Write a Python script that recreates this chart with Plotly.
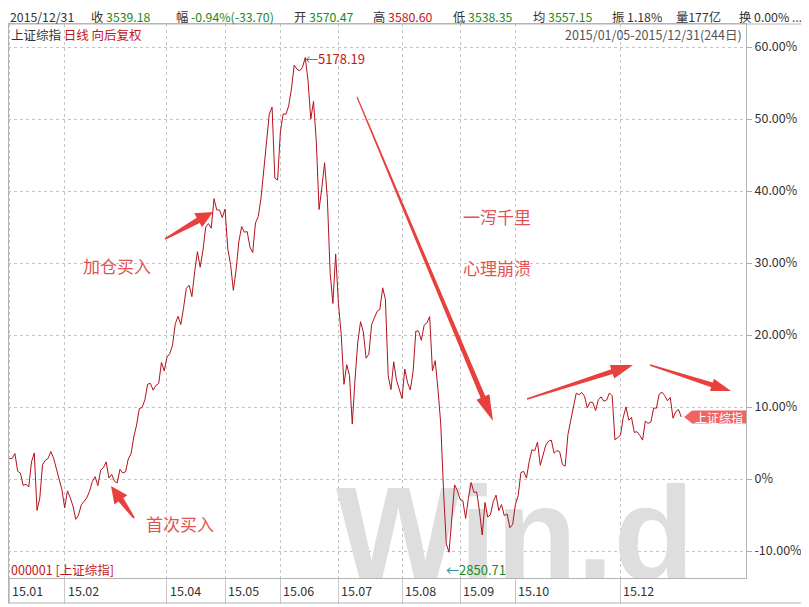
import plotly.graph_objects as go
import numpy as np

# ---------------- data (Shanghai Composite daily closes, 2015) ----------------
base_open = 3258.63   # 2015/01/05 open, reference for % scale
jan = [3350.52, 3351.45, 3373.95, 3293.46, 3285.41, 3229.32, 3235.30, 3222.44, 3336.45, 3376.50,
       3116.35, 3173.05, 3323.61, 3343.34, 3351.76, 3383.18, 3352.96, 3305.74, 3262.30, 3210.36]
feb = [3128.30, 3204.91, 3174.13, 3136.53, 3075.91, 3095.12, 3141.59, 3157.70, 3173.42, 3203.83,
       3246.91, 3268.91, 3228.84, 3298.36, 3310.30]
mar = [3336.28, 3263.05, 3279.53, 3248.48, 3241.19, 3302.41, 3286.07, 3290.90, 3349.32, 3372.91,
       3449.30, 3502.85, 3577.30, 3582.27, 3617.32, 3687.73, 3691.41, 3660.73, 3682.09, 3691.10,
       3786.57, 3747.90]
apr = [3810.29, 3825.78, 3863.93, 3961.38, 3994.81, 3957.53, 4034.31, 4121.71, 4135.57, 4084.16,
       4194.82, 4287.30, 4217.08, 4293.62, 4398.49, 4414.51, 4393.69, 4527.40, 4476.62, 4476.21,
       4441.66]
may = [4480.46, 4298.71, 4229.27, 4112.21, 4205.92, 4333.58, 4401.22, 4375.76, 4378.31, 4308.69,
       4283.49, 4417.55, 4446.29, 4529.42, 4657.60, 4813.80, 4910.90, 4941.71, 4620.27, 4611.74]
jun = [4828.74, 4910.53, 4909.98, 4947.10, 5023.10, 5131.88, 5113.53, 5106.04, 5121.59, 5166.35,
       5062.99, 4887.43, 4967.90, 4785.36, 4478.36, 4576.49, 4690.15, 4527.78, 4192.87, 4053.03,
       4277.22]
jul = [4053.70, 3912.77, 3686.92, 3775.91, 3727.12, 3507.19, 3709.33, 3877.80, 3970.39, 3924.49,
       3805.70, 3823.18, 3957.35, 3992.11, 4017.67, 4026.04, 4123.92, 4070.91, 3725.56, 3663.00,
       3789.17, 3705.77, 3663.73]
aug = [3622.91, 3756.54, 3694.57, 3661.54, 3744.20, 3928.42, 3927.91, 3886.32, 3954.56, 3965.33,
       3993.67, 3748.16, 3794.11, 3664.29, 3507.74, 3209.91, 2964.97, 2927.29, 3083.59, 3232.35,
       3205.99]
sep = [3166.62, 3160.17, 3080.42, 3170.45, 3243.09, 3197.89, 3200.23, 3114.80, 3005.17, 3152.26,
       3086.06, 3097.92, 3156.54, 3185.62, 3115.89, 3142.69, 3092.35, 3100.76, 3038.14, 3052.78]
oct_ = [3143.36, 3183.15, 3287.66, 3293.23, 3262.44, 3338.07, 3391.35, 3386.70, 3425.33, 3320.68,
        3368.74, 3412.43, 3429.58, 3434.34, 3375.20, 3387.32, 3382.56]
nov = [3325.08, 3316.70, 3459.64, 3522.82, 3590.03, 3646.88, 3640.49, 3650.25, 3632.90, 3580.84,
       3606.96, 3604.80, 3568.47, 3617.06, 3630.50, 3610.31, 3616.11, 3647.93, 3635.55, 3436.30,
       3445.40]
dec = [3456.31, 3536.91, 3584.82, 3524.99, 3536.93, 3470.07, 3472.44, 3455.50, 3434.58, 3520.67,
       3510.35, 3516.19, 3580.00, 3578.96, 3642.47, 3651.77, 3636.09, 3612.49, 3627.91, 3533.78,
       3563.74, 3572.88, 3539.18]

months = [jan, feb, mar, apr, may, jun, jul, aug, sep, oct_, nov, dec]
month_labels = ["15.01", "15.02", "15.03", "15.04", "15.05", "15.06",
                "15.07", "15.08", "15.09", "15.10", "15.11", "15.12"]
shown_months = [0, 1, 3, 4, 5, 6, 7, 8, 9, 11]

y_ticks = [-10, 0, 10, 20, 30, 40, 50, 60]
y_tick_text = ["-10.00%", "0%", "10.00%", "20.00%", "30.00%", "40.00%", "50.00%", "60.00%"]

high_2015 = 5178.19
low_2015 = 2850.71

# ---------------- derived ----------------
closes = [c for m in months for c in m]
pct = [(c / base_open - 1) * 100 for c in closes]
idx = list(range(len(closes)))
starts = np.cumsum([0] + [len(m) for m in months[:-1]]).tolist()
tick_vals = [starts[i] for i in shown_months]
tick_text = [month_labels[i] for i in shown_months]

# ---------------- geometry (screen pixels) ----------------
OFF = 8                      # page body margin: the figure starts at (8, 8) on screen
W, H = 809, 607              # screen size
FW, FH = W - OFF, H - OFF    # figure size
PL, PR, PT, PB = 8, 746, 24, 578   # plot area on screen
XR = [-0.5, 266.4]
YR = [(479 - PB) / 7.2, (479 - PT) / 7.2]


def px_to_paper(px, py):
    return (px - PL) / (PR - PL), (PB - py) / (PB - PT)


FONT = "Noto Sans CJK SC"
RED = "#c0161c"
GREEN = "#1a8a1a"
DARK = "#333333"
TEAL = "#2e8ba0"
ARROW = "#e8403c"
NOTE = "#e05454"

fig = go.Figure()

# watermark (under the line)
fig.add_trace(go.Scatter(
    x=[182.9], y=[-9.3], mode="text", text=["Win.d"],
    textfont=dict(family="Liberation Sans", size=132, color="#dedede", weight="bold"),
    textposition="middle center", hoverinfo="skip", showlegend=False))

fig.add_trace(go.Scatter(
    x=idx, y=pct, mode="lines", line=dict(color="#b3121b", width=1),
    hoverinfo="skip", showlegend=False))

shapes = []


def arrow_shape(tail, tip, w_tail=1.5, w_neck=5.0, head_len=18, head_w=16):
    t = np.array(tail, float)
    p = np.array(tip, float)
    d = p - t
    u = d / np.linalg.norm(d)
    n = np.array([-u[1], u[0]])
    neck = p - u * head_len
    pts = [t + n * w_tail / 2, neck + n * w_neck / 2, neck + n * head_w / 2, p,
           neck - n * head_w / 2, neck - n * w_neck / 2, t - n * w_tail / 2]
    path = ""
    for k, q in enumerate(pts):
        xp, yp = px_to_paper(q[0], q[1])
        path += ("M" if k == 0 else "L") + f"{xp:.5f},{yp:.5f} "
    path += "Z"
    return dict(type="path", xref="paper", yref="paper", path=path,
                fillcolor=ARROW, line=dict(width=0), layer="above")


shapes.append(arrow_shape((165, 239), (213, 212), 2, 6, 17, 16))
shapes.append(arrow_shape((134, 518), (111, 486), 2, 6, 17, 16))
shapes.append(arrow_shape((357, 97), (493, 421), 1.2, 5, 26, 14))
shapes.append(arrow_shape((527, 399), (633, 365), 1.5, 5, 22, 14))
shapes.append(arrow_shape((650, 365), (731, 391), 1.5, 5, 20, 13))

# tag at the end of the line
last_i = idx[-1]
last_v = pct[-1]
x_per_px = (XR[1] - XR[0]) / (PR - PL)
half = 6.5 / 7.2
tag_neck = last_i + 1 + 8 * x_per_px
tag_path = (f"M{last_i + 1:.3f},{last_v:.3f} L{tag_neck:.3f},{last_v + half:.3f} "
            f"L{XR[1]:.3f},{last_v + half:.3f} L{XR[1]:.3f},{last_v - half:.3f} "
            f"L{tag_neck:.3f},{last_v - half:.3f} Z")
shapes.append(dict(type="path", xref="x", yref="y", path=tag_path,
                   fillcolor="#f06464", line=dict(width=0), layer="above"))

# frame lines
LINEC = "#b4b4b4"


def hline(py, px0, px1, color=LINEC):
    x0, y = px_to_paper(px0, py)
    x1, _ = px_to_paper(px1, py)
    return dict(type="line", xref="paper", yref="paper", x0=x0, x1=x1, y0=y, y1=y,
                line=dict(color=color, width=1))


def vline(px, py0, py1, color=LINEC):
    x, y0 = px_to_paper(px, py0)
    _, y1 = px_to_paper(px, py1)
    return dict(type="line", xref="paper", yref="paper", x0=x, x1=x, y0=y0, y1=y1,
                line=dict(color=color, width=1))


shapes += [hline(PT, OFF, W), hline(603, PL, 805), vline(805, PT, 603), vline(PL + 0.5, PT, 603)]

annotations = []


def ann(text, px, py, size=13, color=DARK, xanchor="left", **kw):
    xp, yp = px_to_paper(px, py)
    d = dict(text=text, x=xp, y=yp, xref="paper", yref="paper", showarrow=False,
             xanchor=xanchor, yanchor="middle", font=dict(family=FONT, size=size, color=color))
    d.update(kw)
    annotations.append(d)


def c(t, col):
    return f"<span style='color:{col}'>{t}</span>"


# header
HS = 12.3
HY = 16.5
ann("2015/12/31", 8, HY, size=HS)
ann("收 " + c("3539.18", GREEN), 89, HY, size=HS)
ann("幅 " + c("-0.94%(-33.70)", GREEN), 174, HY, size=HS)
ann("开 " + c("3570.47", GREEN), 292, HY, size=HS)
ann("高 " + c("3580.60", RED), 371, HY, size=HS)
ann("低 " + c("3538.35", GREEN), 451, HY, size=HS)
ann("均 " + c("3557.15", GREEN), 531, HY, size=HS)
ann("振 1.18%", 610, HY, size=HS)
ann("量177亿", 674, HY, size=HS)
ann("换 0.00% " + c("...", RED), 737, HY, size=HS)

ann("上证综指 " + c("日线 向后复权", RED), 9, 34, size=12.5)
ann("2015/01/05-2015/12/31(244日)", 744, 34, size=12.5, color="#555555", xanchor="right")
ann("000001 [上证综指]", 9, 569, size=12.5, color=RED)

# x tick labels, left aligned after the separator
for v, t in zip(tick_vals, tick_text):
    annotations.append(dict(text=t, x=v, xref="x", y=(PB - 591) / (PB - PT), yref="paper",
                            showarrow=False, xanchor="left", yanchor="middle", xshift=1,
                            font=dict(family=FONT, size=12.5, color=DARK)))

# high / low markers
i_hi = int(np.argmax(closes))
i_lo = int(np.argmin(closes))
annotations.append(dict(text=c("←", TEAL) + "5178.19", x=i_hi, y=(high_2015 / base_open - 1) * 100,
                        xref="x", yref="y", showarrow=False, xanchor="left", yanchor="middle",
                        yshift=-4, xshift=-2, font=dict(family=FONT, size=13, color=RED)))
annotations.append(dict(text=c("←", TEAL) + c("2850.71", GREEN), x=i_lo,
                        y=(low_2015 / base_open - 1) * 100, xref="x", yref="y", showarrow=False,
                        xanchor="left", yanchor="middle", xshift=-5,
                        font=dict(family=FONT, size=13, color=GREEN)))

# tag text
annotations.append(dict(text="上证综指", x=(tag_neck + XR[1]) / 2, y=last_v,
                        xref="x", yref="y", showarrow=False, xanchor="center", yanchor="middle",
                        font=dict(family=FONT, size=12, color="white")))

# notes
ann("加仓买入", 117, 265, size=17, color=NOTE, xanchor="center")
ann("首次买入", 180, 523, size=17, color=NOTE, xanchor="center")
ann("一泻千里", 497, 217, size=17, color=NOTE, xanchor="center")
ann("心理崩溃", 497, 267, size=17, color=NOTE, xanchor="center")

fig.update_layout(
    width=FW, height=FH,
    margin=dict(l=PL - OFF, r=FW - (PR - OFF), t=PT - OFF, b=FH - (PB - OFF), pad=0,
                autoexpand=False),
    paper_bgcolor="white", plot_bgcolor="white",
    showlegend=False,
    shapes=shapes, annotations=annotations,
    xaxis=dict(range=XR, tickvals=tick_vals, ticktext=tick_text, showticklabels=False,
               ticks="outside", ticklen=25, tickcolor="#c8c8c8", tickwidth=1, automargin=False,
               showgrid=True, gridcolor="#c4c4c4", griddash="dot", gridwidth=1,
               showline=True, linecolor=LINEC, mirror=True, zeroline=False, fixedrange=True),
    yaxis=dict(range=YR, side="right", tickvals=y_ticks, ticktext=y_tick_text,
               ticks="outside", ticklen=5, tickcolor="#aaaaaa", automargin=False,
               tickfont=dict(family=FONT, size=12.5, color=DARK),
               showgrid=True, gridcolor="#c4c4c4", griddash="dot", gridwidth=1,
               showline=True, linecolor=LINEC, mirror=True, zeroline=False, fixedrange=True),
)

fig.write_html("out.html")
